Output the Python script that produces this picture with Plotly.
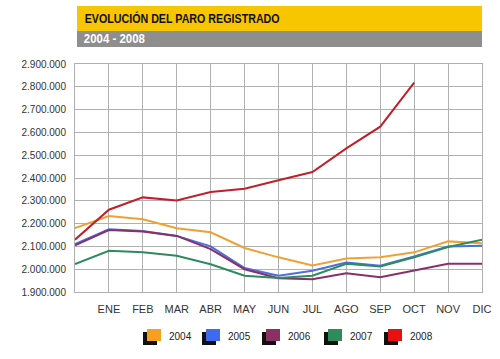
import plotly.graph_objects as go

months = ["", "ENE", "FEB", "MAR", "ABR", "MAY", "JUN", "JUL", "AGO", "SEP", "OCT", "NOV", "DIC"]
years = ["2004", "2005", "2006", "2007", "2008"]
colors = ["#F0A035", "#4A6FE0", "#8A3068", "#2E8B5E", "#C0202A"]
legend_colors = ["#F7A020", "#3E6AF0", "#8A3062", "#2E8C5C", "#E81010"]

v2004 = [2180000, 2233000, 2219000, 2180000, 2162000, 2093000, 2052000, 2016000, 2047000, 2052000, 2074000, 2122000, 2114000]
v2005 = [2110000, 2175000, 2168000, 2146000, 2100000, 2005000, 1971000, 1993000, 2029000, 2015000, 2056000, 2100000, 2103000]
v2006 = [2105000, 2172000, 2165000, 2146000, 2088000, 2000000, 1960000, 1956000, 1982000, 1965000, 1994000, 2024000, 2024000]
v2007 = [2022000, 2081000, 2074000, 2059000, 2022000, 1971000, 1961000, 1971000, 2024000, 2012000, 2052000, 2097000, 2129000]
v2008 = [2129500, 2261000, 2315000, 2301000, 2338500, 2353000, 2390000, 2426000, 2530000, 2625000, 2818000]
series = [v2004, v2005, v2006, v2007, v2008]

y_ticks = list(range(1900000, 2900001, 100000))

L, T, W, H = 75, 64, 407, 228


def px(x):
    return (x - L) / W


def py(y):
    return (T + H - y) / H


fig = go.Figure()
for name, vals, col in zip(years, series, colors):
    fig.add_trace(go.Scatter(x=list(range(len(vals))), y=vals, mode="lines", name=name,
                             line=dict(color=col, width=2), showlegend=False))

fig.update_layout(
    width=500, height=359,
    margin=dict(l=L, r=500 - L - W, t=T, b=359 - T - H),
    paper_bgcolor="white", plot_bgcolor="white",
    separators=",.",
    font=dict(family="Liberation Sans, Arial", size=11, color="#333333"),
    xaxis=dict(range=[0, 12], tickvals=list(range(13)), ticktext=months, automargin=False,
               showgrid=True, gridcolor="#b0b0b0", gridwidth=1,
               showline=True, linecolor="#b0b0b0", mirror=True, zeroline=False,
               ticks="outside", ticklen=7, tickcolor="rgba(0,0,0,0)",
               tickfont=dict(size=11, color="#333333")),
    yaxis=dict(range=[1900000, 2900000], tickvals=y_ticks, tickformat=",d", automargin=False,
               showgrid=True, gridcolor="#b0b0b0", gridwidth=1,
               showline=True, linecolor="#b0b0b0", mirror=True, zeroline=False,
               ticks="outside", ticklen=6, tickcolor="rgba(0,0,0,0)",
               tickfont=dict(size=10, color="#333333")),
)

# Title header bars
fig.add_shape(type="rect", xref="paper", yref="paper", x0=px(77), x1=1.0,
              y0=py(31), y1=py(6), fillcolor="#F7C600", line=dict(width=0), layer="above")
fig.add_shape(type="rect", xref="paper", yref="paper", x0=px(77), x1=1.0,
              y0=py(47), y1=py(31), fillcolor="#8E8E8E", line=dict(width=0), layer="above")
fig.add_annotation(xref="paper", yref="paper", x=px(181.5), y=py(18.5), xanchor="center", yanchor="middle",
                   text="<b>EVOLUCIÓN DEL PARO REGISTRADO</b>", showarrow=False,
                   font=dict(family="Liberation Sans, Arial", size=13.5, color="#111111"))
fig.add_annotation(xref="paper", yref="paper", x=px(114.5), y=py(39), xanchor="center", yanchor="middle",
                   text="<b>2004 - 2008</b>", showarrow=False,
                   font=dict(family="Liberation Sans, Arial", size=12.5, color="white"))

# Custom legend
leg_x = [147, 206, 266, 328, 388]
for name, lx, col in zip(years, leg_x, legend_colors):
    fig.add_shape(type="rect", xref="paper", yref="paper",
                  x0=px(lx - 4), x1=px(lx + 10), y0=py(345), y1=py(332),
                  fillcolor="#111111", line=dict(width=0))
    fig.add_shape(type="rect", xref="paper", yref="paper",
                  x0=px(lx), x1=px(lx + 14), y0=py(341), y1=py(329),
                  fillcolor=col, line=dict(width=0))
    fig.add_annotation(xref="paper", yref="paper", x=px(lx + 20), y=py(336),
                       xanchor="left", yanchor="middle", text=name, showarrow=False,
                       font=dict(size=10, color="#222222"))

post = """
document.body.style.margin='0';
document.body.style.overflow='hidden';
document.querySelectorAll('text.annotation-text').forEach(function(t){
  if (t.textContent.indexOf('EVOLUCI') === 0) {
    t.setAttribute('textLength', '195');
    t.setAttribute('lengthAdjust', 'spacingAndGlyphs');
  }
  if (t.textContent.indexOf('2004 - 2008') === 0) {
    t.setAttribute('textLength', '61');
    t.setAttribute('lengthAdjust', 'spacingAndGlyphs');
  }
});
"""

fig.write_html("out.html", post_script=post, config={"displayModeBar": False})
